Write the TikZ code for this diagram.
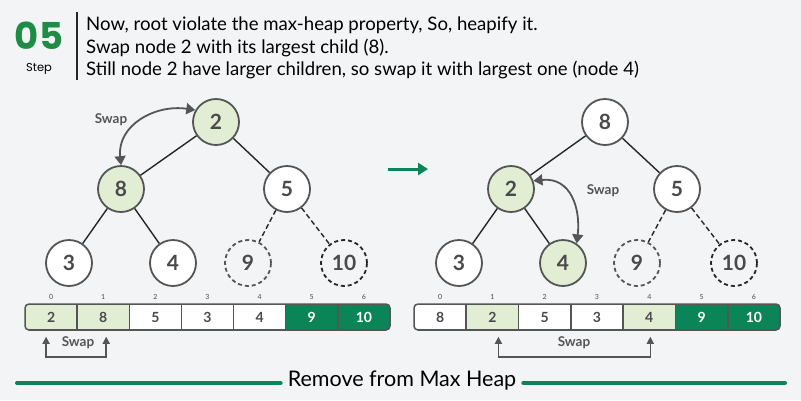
\documentclass[tikz,border=0pt]{standalone}
\usepackage{fontspec}
\setmainfont{Lato}
\newfontfamily\stepfont{Poppins}
\usetikzlibrary{calc,positioning,arrows.meta}
\definecolor{PageGray}{HTML}{F3F4F6}
\definecolor{HeapGreen}{HTML}{0B8457}
\definecolor{StepGreen}{HTML}{1E8C45}
\definecolor{SwapTint}{HTML}{E2EED3}
\definecolor{RimGray}{HTML}{555555}
\definecolor{InkGray}{HTML}{4A4A4A}

\begin{document}
\begin{tikzpicture}[x=1pt, y=-1pt,
    keynode/.style={circle, draw=RimGray, line width=1.8pt, minimum size=46pt, inner sep=0pt,
      fill=white, text=InkGray, font=\fontsize{21}{21}\selectfont\bfseries},
    swapnode/.style={keynode, fill=SwapTint},
    ghostnode/.style={keynode, fill=none, dashed, dash pattern=on 4pt off 3pt},
    branch/.style={line width=1.4pt, black!85},
    ghostbranch/.style={branch, dash pattern=on 5pt off 3pt},
    swaparc/.style={line width=1.8pt, RimGray, {Triangle[width=11pt,length=9pt]}-{Triangle[width=11pt,length=9pt]}},
    swaptext/.style={text=RimGray, font=\fontsize{13.5}{13.5}\selectfont\bfseries},
    cell/.style={rectangle, draw=RimGray, line width=1.5pt, minimum width=52.2pt, minimum height=26pt,
      inner sep=0pt, font=\fontsize{14}{14}\selectfont\bfseries},
    idx/.style={font=\fontsize{7}{7}\selectfont, text=InkGray, inner sep=0pt},
    bracket/.style={line width=1.5pt, RimGray, {Triangle[width=7pt,length=7pt]}-{Triangle[width=7pt,length=7pt]}},
    header/.style={anchor=base west, inner sep=0pt, font=\fontsize{18.6}{18.6}\selectfont},
  ]
  \fill[PageGray] (0,0) rectangle (801,400);
  \useasboundingbox (0,0) rectangle (801,400);

  % step header
  \node[anchor=base, text=StepGreen, inner sep=0pt, text height=26pt, text depth=0pt,
    font=\stepfont\fontsize{37}{37}\selectfont\bfseries] (stepnum) at (39,49) {05};
  \node[anchor=base, inner sep=0pt, text height=8pt, text depth=0pt,
    font=\stepfont\fontsize{11.5}{11.5}\selectfont] (steptag) at (39,71) {Step};
  \draw[line width=1.5pt, black!85] (77,12) -- (77,80);
  \node[header] (line1) at (86,30) {Now, root violate the max-heap property, So, heapify it.};
  \node[header] (line2) at (86,53) {Swap node 2 with its largest child (8).};
  \node[header] (line3) at (86,75) {Still node 2 have larger children, so swap it with largest one (node 4)};

  % left tree
  \node[swapnode] (l2) at (216,122) {2};
  \node[swapnode] (l8) at (121,189) {8};
  \node[keynode] (l5) at (287,189) {5};
  \node[keynode] (l3) at (69,263) {3};
  \node[keynode] (l4) at (173,263) {4};
  \node[ghostnode] (l9) at (248,263) {9};
  \node[ghostnode, draw=black!85] (l10) at (344,263) {10};
  \draw[branch] (l2) -- (l8);
  \draw[branch] (l2) -- (l5);
  \draw[branch] (l8) -- (l3);
  \draw[branch] (l8) -- (l4);
  \draw[ghostbranch] (l5) -- (l9);
  \draw[ghostbranch] (l5) -- (l10);
  \draw[swaparc] (l8.north) .. controls +(-4,-40) and +(-40,-6) .. (l2.150);
  \node[swaptext] (lswap) at (111,120) {Swap};

  % step arrow
  \coordinate (gofrom) at (388,169);
  \coordinate (goto) at (428,169);
  \draw[HeapGreen, line width=3pt, -{Triangle[width=12pt,length=10pt]}] (gofrom) -- (goto);

  % right tree
  \node[keynode] (r8) at (605,122) {8};
  \node[swapnode] (r2) at (511,189) {2};
  \node[keynode] (r5) at (677,189) {5};
  \node[keynode] (r3) at (459,263) {3};
  \node[swapnode] (r4) at (563,263) {4};
  \node[ghostnode] (r9) at (637,263) {9};
  \node[ghostnode, draw=black!85] (r10) at (734,263) {10};
  \draw[branch] (r8) -- (r2);
  \draw[branch] (r8) -- (r5);
  \draw[branch] (r2) -- (r3);
  \draw[branch] (r2) -- (r4);
  \draw[ghostbranch] (r5) -- (r9);
  \draw[ghostbranch] (r5) -- (r10);
  \draw[swaparc] (r2.20) .. controls +(38,-4) and +(4,-34) .. (r4.55);
  \node[swaptext] (rswap) at (603,191) {Swap};

  % left array
  \begin{scope}
    \clip[rounded corners=4pt] (25,304) rectangle (390,330);
    \foreach \val/\shade/\ink [count=\i from 0] in {2/SwapTint/InkGray, 8/SwapTint/InkGray, 5/white/InkGray,
        3/white/InkGray, 4/white/InkGray, 9/HeapGreen/white, 10/HeapGreen/white}
      \node[cell, fill=\shade, text=\ink] (la\i) at (25+52.14*\i+26.07,317) {\val};
  \end{scope}
  \draw[line width=1.5pt, RimGray, rounded corners=4pt] (25,304) rectangle (390,330);
  \foreach \i in {0,...,6}
    \node[idx] (lidx\i) at ($(la\i.north)+(0,-6)$) {\i};
  \draw[bracket] ($(la0.south)+(-5,6)$) -- ++(0,20) -| ($(la1.south)+(3,6)$);
  \node[swaptext] (lbswap) at (78,343) {Swap};

  % right array
  \begin{scope}
    \clip[rounded corners=4pt] (414,304) rectangle (780,330);
    \foreach \val/\shade/\ink [count=\i from 0] in {8/white/InkGray, 2/SwapTint/InkGray, 5/white/InkGray,
        3/white/InkGray, 4/SwapTint/InkGray, 9/HeapGreen/white, 10/HeapGreen/white}
      \node[cell, fill=\shade, text=\ink] (ra\i) at (414+52.29*\i+26.14,317) {\val};
  \end{scope}
  \draw[line width=1.5pt, RimGray, rounded corners=4pt] (414,304) rectangle (780,330);
  \foreach \i in {0,...,6}
    \node[idx] (ridx\i) at ($(ra\i.north)+(0,-6)$) {\i};
  \draw[bracket] ($(ra1.south)+(6,6)$) -- ++(0,20) -| ($(ra4.south)+(1,6)$);
  \node[swaptext] (rbswap) at (574,343) {Swap};

  % footer
  \node[font=\fontsize{21.5}{21.5}\selectfont, inner sep=0pt] (footer) at (402,381) {Remove from Max Heap};
  \coordinate (footl) at (17,383);
  \coordinate (footr) at (785,383);
  \draw[HeapGreen, line width=4pt, line cap=round] (footl) -- ($(footer.west |- footl)+(-7,0)$);
  \draw[HeapGreen, line width=4pt, line cap=round] ($(footer.east |- footr)+(7,0)$) -- (footr);
\end{tikzpicture}
\end{document}
